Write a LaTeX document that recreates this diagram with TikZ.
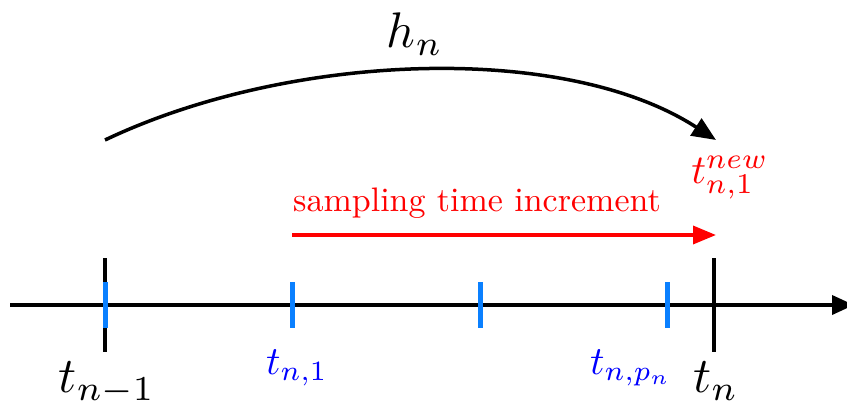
\documentclass[tikz,border=0pt]{standalone}
\usepackage{graphicx}
\usetikzlibrary{arrows.meta}
\definecolor{tickblue}{RGB}{10,128,255}
\newcommand{\scl}[2]{\scalebox{#1}{#2}}
\begin{document}
\begin{tikzpicture}[x=1pt,y=-1pt,
  axisline/.style={line width=3.8pt,-{Triangle[length=22pt,width=19pt]}},
  blacktick/.style={line width=3.3pt},
  bluetick/.style={line width=5pt,draw=tickblue},
  biglabel/.style={inner sep=0pt},
  bluelabel/.style={inner sep=0pt,text=blue},
  redtext/.style={inner sep=0pt,text=red},
  redarrow/.style={line width=3.5pt,red,-{Triangle[length=23pt,width=18pt]}},
  curvearrow/.style={line width=3.5pt,-{Triangle[length=24pt,width=20pt]}}]
\useasboundingbox (0,0) rectangle (847,412);
% axis
\coordinate (axL) at (10,305);
\coordinate (axR) at (854,305);
\draw[axisline] (axL) -- (axR);
% black ticks
\coordinate (k1t) at (105,258); \coordinate (k1b) at (105,352);
\coordinate (k2t) at (714,258); \coordinate (k2b) at (714,352);
\draw[blacktick] (k1t) -- (k1b);
\draw[blacktick] (k2t) -- (k2b);
% blue ticks
\foreach \i/\x in {1/105,2/292,3/480,4/667}{
  \coordinate (b\i t) at (\x,282); \coordinate (b\i b) at (\x,328);
  \draw[bluetick] (b\i t) -- (b\i b);
}
% labels
\node[biglabel] (tnm1) at (107,383) {\scl{5}{$t_{n-1}$}};
\node[biglabel] (tn) at (716,381) {\scl{5}{$t_{n}$}};
\node[bluelabel] (tn1) at (297,368) {\scl{4}{$t_{n,1}$}};
\node[bluelabel] (tnpn) at (631,368) {\scl{4}{$t_{n,p_n}$}};
% red arrow
\coordinate (rs) at (292,235); \coordinate (re) at (716,235);
\draw[redarrow] (rs) -- (re);
\node[redtext] (samp) at (477,203) {\scl{3.4}{sampling time increment}};
\node[biglabel,text=red] (tnew) at (730,178) {\scl{4.1}{$t_{n,1}^{new}$}};
% curve
\coordinate (cs) at (105,140); \coordinate (ce) at (716,140);
\draw[curvearrow] (cs) .. controls (290,52) and (565,42) .. (ce);
\node[biglabel] (hn) at (415,34) {\scl{5}{$h_n$}};
\end{tikzpicture}
\end{document}
